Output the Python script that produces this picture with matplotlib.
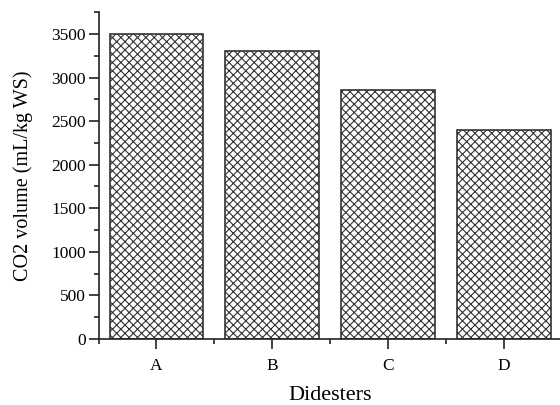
import matplotlib
matplotlib.use("Agg")
import matplotlib.pyplot as plt
from matplotlib.ticker import MultipleLocator

plt.rcParams["font.family"] = ["Liberation Serif", "DejaVu Serif"]
plt.rcParams["hatch.linewidth"] = 0.8
plt.rcParams["hatch.color"] = "#444444"

# data
digesters = ["A", "B", "C", "D"]
co2_volume = [3500, 3300, 2860, 2400]

fig = plt.figure(figsize=(5.6, 4.05), dpi=100)
ax = fig.add_axes([0.176, 0.163, 0.827, 0.807])

x = range(len(digesters))
ax.bar(x, co2_volume, width=0.81, color="white", edgecolor="#333333",
       linewidth=1.2, hatch="xxxx")

ax.set_xlim(-0.5, 3.5)
ax.set_ylim(0, 3750)
ax.set_xticks(list(x))
ax.set_xticklabels(digesters)
ax.xaxis.set_minor_locator(MultipleLocator(1, offset=0.5))
ax.yaxis.set_major_locator(MultipleLocator(500))
ax.yaxis.set_minor_locator(MultipleLocator(250))

for side in ("top", "right"):
    ax.spines[side].set_visible(False)
for side in ("left", "bottom"):
    ax.spines[side].set_linewidth(1.2)
    ax.spines[side].set_color("#222222")

ax.tick_params(which="major", direction="out", length=7, width=1.2,
               labelsize=12.5, pad=2, color="#222222")
ax.tick_params(axis="x", which="major", pad=7)
ax.tick_params(which="minor", direction="out", length=3.5, width=1.2,
               color="#222222")

ax.set_xlabel("Didesters", fontsize=16, labelpad=8)
ax.set_ylabel("CO2 volume (mL/kg WS)", fontsize=14.5, labelpad=13)

fig.savefig("out.png", dpi=100)
